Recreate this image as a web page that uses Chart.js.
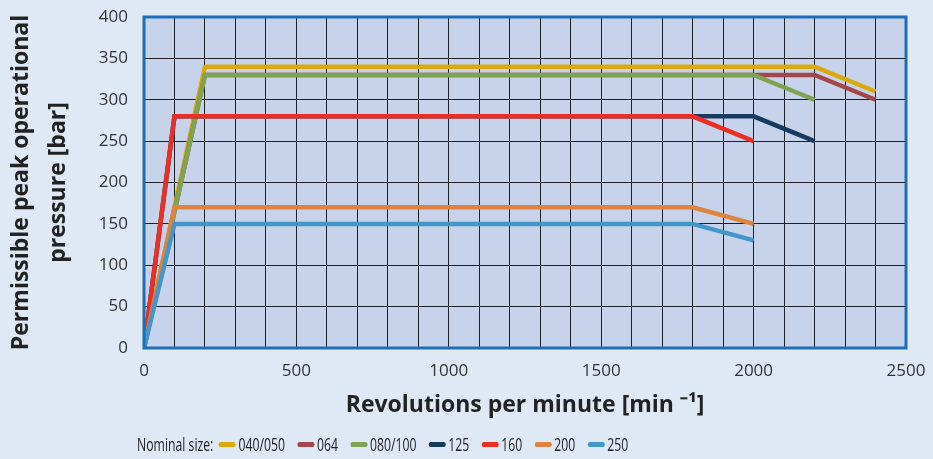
<!DOCTYPE html>
<html>
<head>
<meta charset="utf-8">
<script src="https://cdn.jsdelivr.net/npm/chart.js@4/dist/chart.umd.min.js"></script>
<style>
    html, body { margin: 0; padding: 0; background: #dfe9f6; }
    #wrap { position: relative; width: 933px; height: 459px; }
    #legend {
        position: absolute; left: 137px; top: 431px; height: 26px;
        display: flex; align-items: center; white-space: nowrap;
        font-family: "Open Sans", sans-serif; font-size: 18px; color: #222;
        transform: scaleX(0.68); transform-origin: 0 0;
    }
    #legend .item { display: flex; align-items: center; margin-right: 18px; }
    #legend .sw { width: 25px; height: 5px; border-radius: 3px; margin-right: 4px; }
</style>
</head>
<body>
<div id="wrap">
    <canvas id="myChart" width="933" height="459"></canvas>
    <div id="legend"></div>
</div>
<script>
// nominal sizes
const sizes = ["040/050", "064", "080/100", "125", "160", "200", "250"];

// rpm / bar corner points per size
const rpm040 = [0, 200, 2200, 2400];
const bar040 = [0, 340, 340, 310];
const rpm064 = [0, 200, 2200, 2400];
const bar064 = [0, 330, 330, 300];
const rpm080 = [0, 200, 2000, 2200];
const bar080 = [0, 330, 330, 300];
const rpm125 = [0, 100, 2000, 2200];
const bar125 = [0, 280, 280, 250];
const rpm160 = [0, 100, 1800, 2000];
const bar160 = [0, 280, 280, 250];
const rpm200 = [0, 100, 1800, 2000];
const bar200 = [0, 170, 170, 150];
const rpm250 = [0, 100, 1800, 2000];
const bar250 = [0, 150, 150, 130];

const rpms = [rpm040, rpm064, rpm080, rpm125, rpm160, rpm200, rpm250];
const bars = [bar040, bar064, bar080, bar125, bar160, bar200, bar250];
const colors = ["#d9a90f", "#a4474a", "#7fa352", "#173a5e", "#ec2f26", "#dd8441", "#4396c7"];

const plotBg = {
    id: "plotBg",
    beforeDraw(chart) {
        const { ctx, chartArea: a } = chart;
        ctx.save();
        ctx.fillStyle = "#c6d3ea";
        ctx.fillRect(a.left, a.top, a.width, a.height);
        ctx.restore();
    },
    afterDraw(chart) {
        const { ctx, chartArea: a } = chart;
        ctx.save();
        ctx.strokeStyle = "#1f6db6";
        ctx.lineWidth = 3;
        ctx.strokeRect(a.left, a.top, a.width, a.height);
        ctx.restore();
    },
};

function main() {
    const ctx = document.getElementById("myChart");
    const tickFont = { family: "'Open Sans', sans-serif", size: 17 };

    new Chart(ctx, {
        type: "line",
        data: {
            datasets: sizes.map((s, i) => ({
                label: s,
                data: rpms[i].map((x, j) => ({ x: x, y: bars[i][j] })),
                borderColor: colors[i],
                backgroundColor: colors[i],
                borderWidth: 4.5,
                pointRadius: 0,
                tension: 0,
                order: -i,
            })),
        },
        options: {
            responsive: false,
            animation: false,
            layout: { padding: { left: 0, right: 27, top: 17, bottom: 40 } },
            plugins: {
                legend: { display: false },
                tooltip: { enabled: false },
            },
            scales: {
                x: {
                    type: "linear",
                    min: 0,
                    max: 2500,
                    afterFit: (s) => {
                        s.height = 71;
                        s.paddingLeft = 0;
                        s.paddingRight = 0;
                    },
                    grid: { color: "#1e1e26", lineWidth: 1, drawTicks: false },
                    border: { display: false },
                    ticks: {
                        stepSize: 100,
                        autoSkip: false,
                        maxRotation: 0,
                        padding: 13,
                        color: "#333",
                        font: tickFont,
                        callback: (v) => (v % 500 === 0 ? String(v) : ""),
                    },
                    title: {
                        display: true,
                        text: "Revolutions per minute [min \u207B\u00B9]",
                        color: "#222",
                        font: { family: "'Open Sans', sans-serif", size: 23, weight: "bold" },
                        padding: { top: 0, bottom: 0 },
                    },
                },
                y: {
                    min: 0,
                    max: 400,
                    afterFit: (s) => {
                        s.width = 144;
                        s.paddingTop = 0;
                        s.paddingBottom = 0;
                    },
                    grid: { color: "#1e1e26", lineWidth: 1, drawTicks: false },
                    border: { display: false },
                    ticks: {
                        stepSize: 50,
                        padding: 16,
                        color: "#333",
                        font: tickFont,
                    },
                    title: {
                        display: true,
                        text: ["Permissible peak operational", "pressure [bar]"],
                        color: "#222",
                        font: { family: "'Open Sans', sans-serif", size: 23, weight: "bold", lineHeight: 1.6 },
                        padding: { top: 3, bottom: 0 },
                    },
                },
            },
        },
        plugins: [plotBg],
    });

    // legend below the chart, built from the same arrays
    const leg = document.getElementById("legend");
    const head = document.createElement("span");
    head.textContent = "Nominal size:";
    head.style.marginRight = "8px";
    leg.appendChild(head);
    sizes.forEach((s, i) => {
        const item = document.createElement("span");
        item.className = "item";
        const sw = document.createElement("span");
        sw.className = "sw";
        sw.style.background = colors[i];
        const t = document.createElement("span");
        t.textContent = s;
        item.appendChild(sw);
        item.appendChild(t);
        leg.appendChild(item);
    });
}

main();
</script>
</body>
</html>
